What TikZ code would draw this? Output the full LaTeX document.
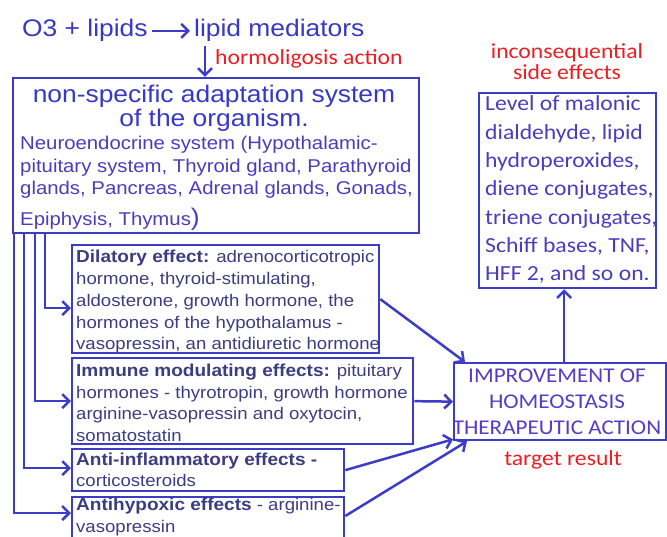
\documentclass[tikz,border=0pt]{standalone}
\usepackage{fontspec}
\setmainfont{Liberation Sans}[FakeStretch=1.1]
\newfontfamily\calfont{Carlito}[FakeStretch=1.1]
\usetikzlibrary{arrows.meta}

\definecolor{titleblue}{RGB}{55,55,200}
\definecolor{lineblue}{RGB}{60,60,200}
\definecolor{neuroblue}{RGB}{75,60,190}
\definecolor{effecttext}{RGB}{60,60,130}
\definecolor{improvecol}{RGB}{85,60,200}
\definecolor{labelred}{RGB}{235,30,35}
\newcommand{\fsz}[2]{\fontsize{#1}{#2}\selectfont}

\begin{document}
\begin{tikzpicture}[x=1pt, y=-1pt,
    >={Straight Barb[length=7pt,width=14pt]},
    frame/.style={draw=lineblue, line width=2.3pt, anchor=north west, inner sep=0pt},
    link/.style={->, draw=lineblue, line width=2.5pt},
    lines/.style={anchor=base west, align=left, inner sep=0pt, text=effecttext}]

    \useasboundingbox (0,0) rectangle (667,537);

    % Ozone reaction
    \node[anchor=base west, inner sep=4pt, text=titleblue, font=\fsz{24}{24}] (ozone) at (18,37) {O3 + lipids};
    \node[anchor=base west, inner sep=4pt, text=titleblue, font=\fsz{24}{24}] (mediators) at (190,37) {lipid mediators};
    \draw[link] (ozone.east) -- (mediators.west);

    % Hormoligosis step
    \node[anchor=base west, inner sep=0pt, text=labelred, font=\calfont\fsz{21.5}{24}] (hormo) at (215,65) {hormoligosis action};

    % Adaptation system (base = last line)
    \node[frame, minimum width=406pt, minimum height=155pt] (system) at (12,77) {};
    \node[anchor=base, align=center, inner sep=0pt, text=titleblue, font=\fsz{24}{24}] (heading) at (214,127) {non-specific adaptation system\\of the organism.};
    \node[lines, text=neuroblue, font=\fsz{18.5}{22.5}] (neuro) at (20,226) {Neuroendocrine system (Hypothalamic-\\pituitary system, Thyroid gland, Parathyroid\\glands, Pancreas, Adrenal glands, Gonads,\\[8.5pt]Epiphysis, Thymus{\fsz{24}{24})}};

    \coordinate (drop) at ([xshift=15pt]mediators.south west);
    \draw[link] (drop) -- (drop |- system.north);

    % Effects
    \node[frame, minimum width=307pt, minimum height=108pt] (dilatory) at (71,244) {};
    \node[lines, font=\fsz{16.9}{21.7}] (dilatorytext) at (76,349.8) {{\fsz{17.3}{21.7}\bfseries Dilatory effect:} adrenocorticotropic\\hormone, thyroid-stimulating,\\aldosterone, growth hormone, the\\hormones of the hypothalamus -\\vasopressin, an antidiuretic hormone};

    \node[frame, minimum width=341pt, minimum height=86pt] (immune) at (71,357) {};
    \node[lines, font=\fsz{16.9}{21.5}] (immunetext) at (76,441.2) {{\fsz{17.3}{21.5}\bfseries Immune modulating effects:} pituitary\\hormones - thyrotropin, growth hormone\\arginine-vasopressin and oxytocin,\\somatostatin};

    \node[frame, minimum width=272pt, minimum height=42pt] (antiinfl) at (71,448) {};
    \node[lines, font=\fsz{16.9}{21.7}] (antiinfltext) at (76,486.7) {{\fsz{17.3}{21.7}\bfseries Anti-inflammatory effects -}\\corticosteroids};

    \node[frame, minimum width=272pt, minimum height=60pt] (hypoxic) at (71,496) {};
    \node[lines, font=\fsz{16.9}{22.7}] (hypoxictext) at (76,532.7) {{\fsz{17.3}{22.7}\bfseries Antihypoxic effects} - arginine-\\vasopressin};

    \draw[link] ([xshift=33pt]system.south west) |- ([yshift=-9pt]dilatory.west);
    \draw[link] ([xshift=23pt]system.south west) |- (immune.west);
    \draw[link] ([xshift=12pt]system.south west) |- ([yshift=2pt]antiinfl.west);
    \draw[link] ([xshift=2pt]system.south west) |- ([yshift=-17pt]hypoxic.north west);

    % Side effects
    \node[anchor=base, align=center, inner sep=0pt, text=labelred, font=\calfont\fsz{21.5}{21.7}] (sidelabel) at (567,80) {inconsequential\\side effects};
    \node[frame, minimum width=177pt, minimum height=195pt] (side) at (478,92) {};
    \node[lines, text=neuroblue, font=\calfont\fsz{21.5}{28.3}] (sidetext) at (485,280.8) {Level of malonic\\dialdehyde, lipid\\hydroperoxides,\\diene conjugates,\\triene conjugates,\\Schiff bases, TNF,\\HFF 2, and so on.};

    % Result
    \node[frame, minimum width=212pt, minimum height=77pt] (improve) at (453,362) {};
    \node[anchor=base, align=center, inner sep=0pt, text=improvecol, font=\calfont\fsz{21}{26}] (improvetext) at (557,434) {IMPROVEMENT OF\\HOMEOSTASIS\\THERAPEUTIC ACTION};
    \node[anchor=base, inner sep=0pt, text=labelred, font=\calfont\fsz{21.5}{24}] (target) at (563,465) {target result};

    \draw[link] (dilatory.east) -- ([xshift=12pt]improve.north west);
    \draw[link] (immune.east) -- (improve.west);
    \draw[link] (antiinfl.east) -- ([yshift=2pt]improve.south west);
    \draw[link] ([yshift=-20pt]hypoxic.north east) -- ([xshift=14pt]improve.south west);

    \coordinate (rise) at ([xshift=4pt]improve.north);
    \draw[link] (rise) -- (rise |- side.south);

\end{tikzpicture}
\end{document}
